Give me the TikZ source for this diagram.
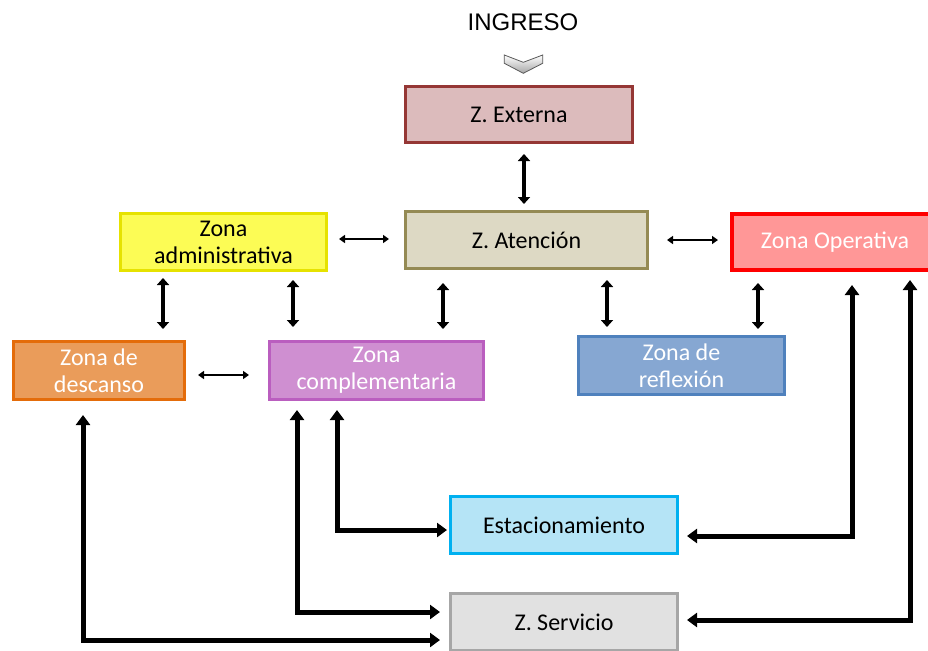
\documentclass[tikz,border=0pt]{standalone}
\usepackage{fontspec}
\setmainfont{Carlito}
\newfontfamily\arialf{Liberation Sans}
\usetikzlibrary{arrows.meta,calc}
\newcommand\boxfont{\fontsize{24}{27}\selectfont}
\definecolor{extF}{HTML}{DCBBBC}\definecolor{extD}{HTML}{953735}
\definecolor{attF}{HTML}{DDD9C4}\definecolor{attD}{HTML}{948A54}
\definecolor{admF}{HTML}{FCFC55}\definecolor{admD}{HTML}{E6E200}
\definecolor{opeF}{HTML}{FF9797}\definecolor{opeD}{HTML}{FF0000}
\definecolor{desF}{HTML}{EA9C5A}\definecolor{desD}{HTML}{E46C0A}
\definecolor{comF}{HTML}{CF8FD1}\definecolor{comD}{HTML}{BA5EBF}
\definecolor{refF}{HTML}{86A7D2}\definecolor{refD}{HTML}{4F81BD}
\definecolor{estF}{HTML}{B5E4F6}\definecolor{estD}{HTML}{00B0F0}
\definecolor{serF}{HTML}{E1E1E1}\definecolor{serD}{HTML}{A6A6A6}
\tikzset{
  box/.style={draw, line width=3pt, inner sep=0pt, align=center, font=\boxfont},
  varr/.style={line width=4pt, {Triangle[width=12pt,length=7pt]}-{Triangle[width=12pt,length=7pt]}},
  harr/.style={line width=2.5pt, {Triangle[width=8pt,length=6pt]}-{Triangle[width=8pt,length=6pt]}},
  earr/.style={line width=5pt, {Triangle[width=14pt,length=10pt]}-{Triangle[width=14pt,length=10pt]}},
}
\begin{document}
\begin{tikzpicture}[x=1pt,y=-1pt]
\useasboundingbox (0,0) rectangle (928,650);
\clip (0,0) rectangle (928,650);
\fill[white] (0,0) rectangle (928,650);

\node[font=\arialf\fontsize{24}{27}\selectfont, inner sep=0pt] (ing) at (523,22) {INGRESO};
\shade[top color=white, bottom color=gray!70, draw=black!65, line width=0.8pt]
  (504.3,55) -- (523.3,62.3) -- (542.7,55) -- (542.7,63.3) -- (523.3,73.3) -- (504.3,63.3) -- cycle;

\node[box, fill=extF, draw=extD, minimum width=227pt, minimum height=56pt] (ext) at (519,114.5) {Z. Externa};
\node[box, fill=attF, draw=attD, minimum width=242pt, minimum height=57pt] (att) at (526.5,240) {Z. Atención};
\node[box, fill=admF, draw=admD, minimum width=206pt, minimum height=57pt] (adm) at (223.5,242) {Zona\\administrativa};
\node[box, fill=opeF, draw=opeD, text=white, line width=4pt, minimum width=206pt, minimum height=56pt] (ope) at (835,242) {Zona Operativa};
\node[box, fill=desF, draw=desD, text=white, minimum width=171pt, minimum height=58pt] (des) at (99,370.5) {Zona de\\descanso};
\node[box, fill=comF, draw=comD, text=white, minimum width=214pt, minimum height=58pt] (com) at (376.5,370.5) {Zona\\complementaria};
\node[box, fill=refF, draw=refD, text=white, minimum width=206pt, minimum height=58pt] (ref) at (681.5,365.5) {Zona de\\reflexión};
\node[box, fill=estF, draw=estD, minimum width=227pt, minimum height=57pt] (est) at (564,525) {Estacionamiento};
\node[box, fill=serF, draw=serD, minimum width=227pt, minimum height=57pt] (ser) at (564,622) {Z. Servicio};

% short connectors
\draw[varr] ([shift={(5,10)}]ext.south) -- ([shift={(-2.5,-6)}]att.north);
\draw[harr] ([shift={(11,-3)}]adm.east) -- ([shift={(-15,-1)}]att.west);
\draw[harr] ([shift={(18,0)}]att.east) -- ([shift={(-12,-2)}]ope.west);
\draw[varr] ([shift={(-60.5,6)}]adm.south) -- ([shift={(64,-11)}]des.north);
\draw[varr] ([shift={(69.5,8)}]adm.south) -- ([shift={(-83.5,-13)}]com.north);
\draw[varr] ([shift={(-83.5,13)}]att.south) -- ([shift={(66.5,-11)}]com.north);
\draw[varr] ([shift={(80.5,10)}]att.south) -- ([shift={(-74.5,-8)}]ref.north);
\draw[varr] ([shift={(-77,11)}]ope.south) -- ([shift={(76.5,-6)}]ref.north);
\draw[harr] ([shift={(12,4.5)}]des.east) -- ([shift={(-19,4.5)}]com.west);

% elbow connectors
\draw[earr] ([shift={(-39.5,9)}]com.south) |- ([shift={(-2,5)}]est.west);
\draw[earr] ([shift={(-79.5,9)}]com.south) |- ([shift={(-9,-10)}]ser.west);
\draw[earr] ([shift={(-16,14)}]des.south) |- ([shift={(-9,18)}]ser.west);
\draw[earr] ([shift={(17,13)}]ope.south) |- ([shift={(8,11)}]est.east);
\draw[earr] ([shift={(75,8)}]ope.south) |- ([shift={(8,-2)}]ser.east);
\end{tikzpicture}
\end{document}
